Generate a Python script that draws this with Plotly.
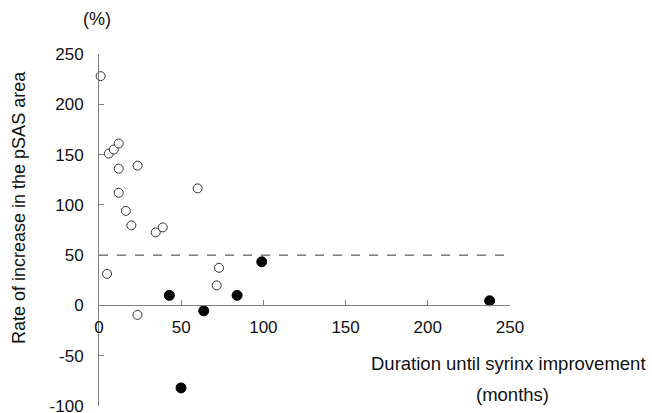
import plotly.graph_objects as go

# Open circles (improved group)
open_x = [1, 6, 9, 12, 12, 23.5, 12, 16.3, 19.7, 34.5, 38.8, 60, 4.9, 23.4, 73, 71.6]
open_y = [228, 151, 155, 161, 136, 139, 112, 94, 79.6, 72.6, 77.6, 116.4, 31.4, -9.4, 37.4, 19.9]
# Filled circles
filled_x = [42.8, 63.7, 84, 99, 237.6, 49.9]
filled_y = [10, -5.4, 10, 43.4, 4.6, -82]
# Reference line
ref_x = [0, 250]
ref_y = [50, 50]

x_ticks = [0, 50, 100, 150, 200, 250]
y_ticks = [-100, -50, 0, 50, 100, 150, 200, 250]
y_labels = ["-100", "-50", "0", "50", "100", "150", "200", "250"]

FONT = "Liberation Sans, Arial, sans-serif"

fig = go.Figure()
fig.add_trace(go.Scatter(x=ref_x, y=ref_y, mode="lines",
                         line=dict(color="#333333", width=1, dash="dash"),
                         hoverinfo="skip", showlegend=False))
fig.add_trace(go.Scatter(x=open_x, y=open_y, mode="markers",
                         marker=dict(size=9, color="white", line=dict(color="#333333", width=1)),
                         showlegend=False, cliponaxis=False))
fig.add_trace(go.Scatter(x=filled_x, y=filled_y, mode="markers",
                         marker=dict(size=10, color="black", line=dict(color="black", width=1)),
                         showlegend=False, cliponaxis=False))

fig.update_layout(
    width=652, height=413,
    margin=dict(l=99, r=142, t=54, b=7, autoexpand=False),
    paper_bgcolor="white", plot_bgcolor="white",
    font=dict(family=FONT, size=17, color="#111111"),
    xaxis=dict(range=[0, 250], tickvals=x_ticks, showgrid=False, zeroline=False,
               showline=True, linecolor="#808080", linewidth=1,
               ticks="inside", ticklen=5, tickcolor="#808080",
               anchor="free", position=100/350, ticklabelstandoff=6,
               automargin=False, ticklabeloverflow="allow"),
    yaxis=dict(range=[-100, 250], tickvals=y_ticks, ticktext=y_labels,
               showgrid=False, zeroline=False,
               showline=True, linecolor="#808080", linewidth=1,
               ticks="inside", ticklen=5, tickcolor="#808080",
               ticklabelstandoff=11, automargin=False, ticklabeloverflow="allow"),
    annotations=[
        dict(text="Rate of increase in the pSAS area", textangle=-90,
             xref="paper", yref="paper", x=0, y=(406 - 208) / 352,
             xshift=-80, showarrow=False, xanchor="center", yanchor="middle",
             font=dict(size=18)),
        dict(text="(%)", xref="paper", yref="paper", x=0, y=1, xshift=-2,
             yshift=35, showarrow=False, xanchor="center", yanchor="middle",
             font=dict(size=18)),
        dict(text="Duration until syrinx improvement", xref="paper", yref="paper",
             x=0, y=(406 - 363) / 352, xshift=270, showarrow=False,
             xanchor="left", yanchor="middle", font=dict(size=18.5)),
        dict(text="(months)", xref="paper", yref="paper",
             x=0, y=(406 - 394) / 352, xshift=413, showarrow=False,
             xanchor="center", yanchor="middle", font=dict(size=18.5)),
    ],
)

fig.write_html("out.html", config={"displayModeBar": False},
               post_script="document.body.style.margin='0';document.body.style.overflow='hidden';")
